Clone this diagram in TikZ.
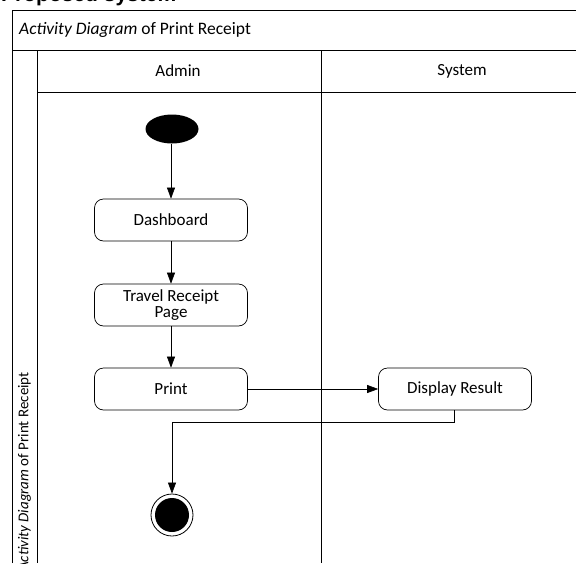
\documentclass[tikz,border=0pt]{standalone}
\usepackage{fontspec}
\setmainfont{Carlito}
\newfontfamily\headfont{Liberation Sans}
\usetikzlibrary{arrows.meta,shapes.geometric}
\begin{document}
\begin{tikzpicture}[x=1pt,y=-1pt,
  frameline/.style={draw=black,line width=0.8pt},
  act/.style={draw=black,line width=0.7pt,rounded corners=9pt,minimum width=153pt,minimum height=42pt,align=center,font=\fontsize{17}{16.5}\selectfont,inner sep=2pt},
  flow/.style={draw=black,line width=0.6pt,-{Triangle[length=11pt,width=8pt]}},
  lbl/.style={font=\fontsize{17}{18}\selectfont}]
\useasboundingbox (0,0) rectangle (576,563);
\begin{scope}
\clip (0,0) rectangle (576,563);
\node[anchor=base west,font=\headfont\bfseries\fontsize{21}{24}\selectfont,inner sep=0pt] (head) at (1,1.5) {Proposed system};
\end{scope}
% frame
\draw[frameline] (12,563) -- (12,10) -- (576,10);
\draw[frameline] (12,50) -- (576,50);
\draw[frameline] (37,92) -- (576,92);
\draw[frameline] (37,50) -- (37,563);
\draw[frameline] (321,50) -- (321,563);
\node[font=\fontsize{17.5}{19}\selectfont,anchor=west,inner sep=0pt] (title) at (19,30) {\textit{Activity Diagram} of Print Receipt};
\node[lbl] (admin) at (178,71) {Admin};
\node[lbl] (system) at (462,71) {System};
\begin{scope}
\clip (12,50) rectangle (37,563);
\node[rotate=90,font=\fontsize{15}{17}\selectfont,anchor=west,inner sep=0pt] (pool) at (24.5,571) {\textit{Activity Diagram} of Print Receipt};
\end{scope}
% nodes
\node[ellipse,fill=black,minimum width=53pt,minimum height=29pt,inner sep=0pt] (start) at (172,129) {};
\node[act] (dash) at (171,220) {Dashboard};
\node[act] (trp) at (171,305) {Travel Receipt\\Page};
\node[act] (print) at (171,389) {Print};
\node[act] (disp) at (455,389) {Display Result};
\node[circle,draw=black,line width=0.8pt,minimum size=42pt,inner sep=0pt] (final) at (172,515) {};
\node[circle,fill=black,minimum size=34pt,inner sep=0pt] (finalin) at (final.center) {};
\coordinate (turn) at (454,422);
% flows
\draw[flow] (start.south -| dash.north) -- (dash.north);
\draw[flow] (dash.south) -- (trp.north);
\draw[flow] (trp.south) -- (print.north);
\draw[flow] (print.east) -- (disp.west);
\draw[flow] (disp.south -| turn) -- (turn) -- (turn -| final.north) -- (final.north);
\end{tikzpicture}
\end{document}
